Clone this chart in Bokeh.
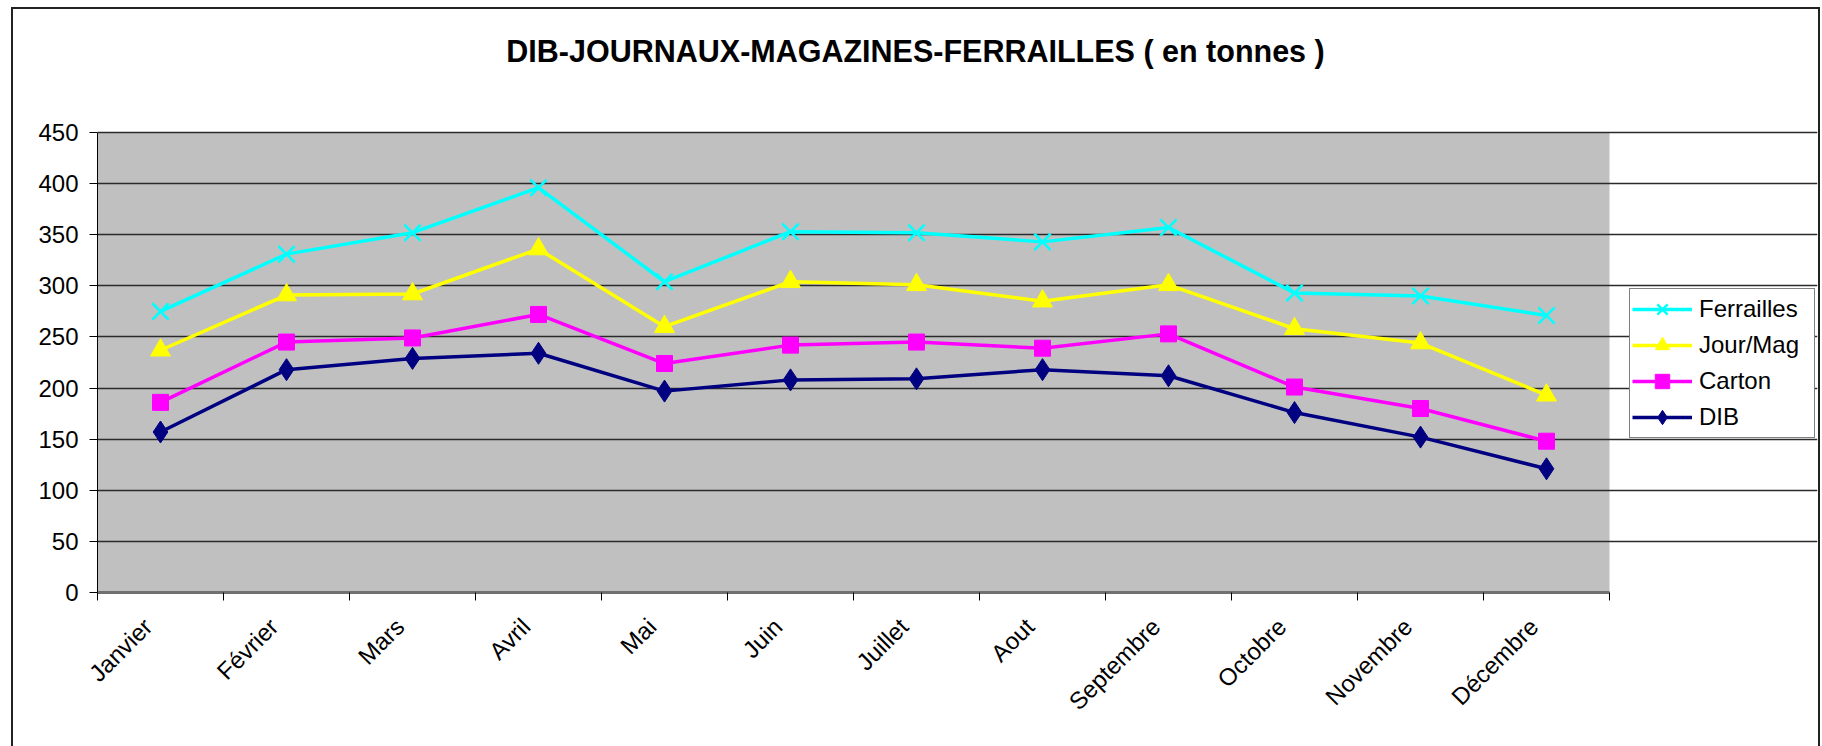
import math
from bokeh.plotting import figure
from bokeh.models import FixedTicker, Legend, LegendItem, Range1d, Label
from bokeh.embed import file_html
from bokeh.resources import INLINE

months = ["Janvier", "Février", "Mars", "Avril", "Mai", "Juin", "Juillet",
          "Aout", "Septembre", "Octobre", "Novembre", "Décembre"]
ferrailles = [275, 331, 352, 396, 304, 353, 352, 343, 357, 293, 290, 271]
jourmag = [237, 291, 292, 336, 260, 304, 301, 285, 301, 258, 244, 193]
carton = [186, 245, 249, 272, 224, 242, 245, 239, 253, 201, 180, 148]
dib = [157, 218, 229, 234, 197, 208, 209, 218, 212, 176, 152, 121]
y_ticks = [0, 50, 100, 150, 200, 250, 300, 350, 400, 450]
title_text = "DIB-JOURNAUX-MAGAZINES-FERRAILLES ( en tonnes )"

FONT = "Liberation Sans"
n = len(months)
ymax = y_ticks[-1]
xs = [i + 0.5 for i in range(n)]

# layout (pixels): plot area 1512 x 460, frame extended to hold title and legend
AREA_W, AREA_H = 1512, 460
FRAME_W, FRAME_H = 1720, 583
LABEL_SHIFT = 0.1  # month labels sit slightly left of the category centre

p = figure(frame_width=FRAME_W, frame_height=FRAME_H, output_backend="svg",
           toolbar_location=None, title_location=None,
           x_range=Range1d(0, n * FRAME_W / AREA_W),
           y_range=Range1d(0, ymax * FRAME_H / AREA_H),
           min_border_left=84, min_border_right=1, min_border_top=0,
           min_border_bottom=154)
p.styles = {"border-top": "2px solid #222", "border-left": "2px solid #222",
            "border-right": "2px solid #222", "box-sizing": "border-box",
            "margin-left": "11px", "margin-top": "7px"}
p.background_fill_color = "white"
p.border_fill_color = "white"
p.outline_line_color = None

# plot area background
p.quad(left=[0], right=[n], bottom=[0], top=[ymax], fill_color="#C0C0C0",
       line_color=None, level="image")

# axes
label_pos = [x - LABEL_SHIFT for x in xs]
p.xaxis.bounds = (0, n)
p.xaxis.ticker = FixedTicker(ticks=label_pos, minor_ticks=list(range(n + 1)))
p.xaxis.major_label_overrides = {x: m for x, m in zip(label_pos, months)}
p.xaxis.major_label_orientation = math.pi / 4
p.xaxis.major_tick_line_color = None
p.xaxis.major_tick_out = 0
p.xaxis.major_tick_in = 0
p.xaxis.minor_tick_line_color = "black"
p.xaxis.minor_tick_out = 8
p.xaxis.minor_tick_in = 0
p.xaxis.axis_line_color = "#707070"
p.xaxis.axis_line_width = 3
p.xaxis.major_label_text_font = FONT
p.xaxis.major_label_text_font_size = "24px"
p.xaxis.major_label_text_color = "black"
p.xaxis.major_label_standoff = 22

p.yaxis.bounds = (0, ymax)
p.yaxis.ticker = FixedTicker(ticks=y_ticks)
p.yaxis.minor_tick_line_color = None
p.yaxis.major_tick_out = 8
p.yaxis.major_tick_in = 0
p.yaxis.axis_line_color = "black"
p.yaxis.major_label_text_font = FONT
p.yaxis.major_label_text_font_size = "24px"
p.yaxis.major_label_text_color = "black"
p.yaxis.major_label_standoff = 11

p.xgrid.grid_line_color = None
p.ygrid.bounds = (0, n)
p.ygrid.grid_line_color = "#2a2a2a"
p.ygrid.grid_line_width = 1.6

series = [
    ("Ferrailles", ferrailles, "#00FFFF", "x", 23),
    ("Jour/Mag", jourmag, "#FFFF00", "triangle", 20),
    ("Carton", carton, "#FF00FF", "square", 16),
    ("DIB", dib, "#000080", "diamond", 22),
]
items = []
for name, vals, col, mk, sz in series:
    r1 = p.line(xs, vals, line_color=col, line_width=3.5)
    if mk == "x":
        r2 = p.scatter(xs, vals, marker=mk, size=sz, line_color=col, line_width=2.5)
    else:
        r2 = p.scatter(xs, vals, marker=mk, size=sz, fill_color=col, line_color=col)
    items.append(LegendItem(label=name, renderers=[r1, r2]))

legend = Legend(items=items, location=(1532, 154), orientation="vertical",
                border_line_color="black", border_line_width=1,
                background_fill_color="white", background_fill_alpha=1,
                label_text_font=FONT, label_text_font_size="24px",
                label_text_color="black", glyph_width=60, glyph_height=36,
                label_standoff=7, spacing=0, padding=2, label_width=113,
                margin=0)
p.add_layout(legend, "center")

title = Label(x=818, y=542, x_units="screen", y_units="screen", text=title_text,
              text_font=FONT, text_font_size="30.5px", text_font_style="bold",
              text_align="center", text_baseline="middle", text_color="black")
p.add_layout(title)

open("out.html", "w").write(file_html(p, INLINE))
